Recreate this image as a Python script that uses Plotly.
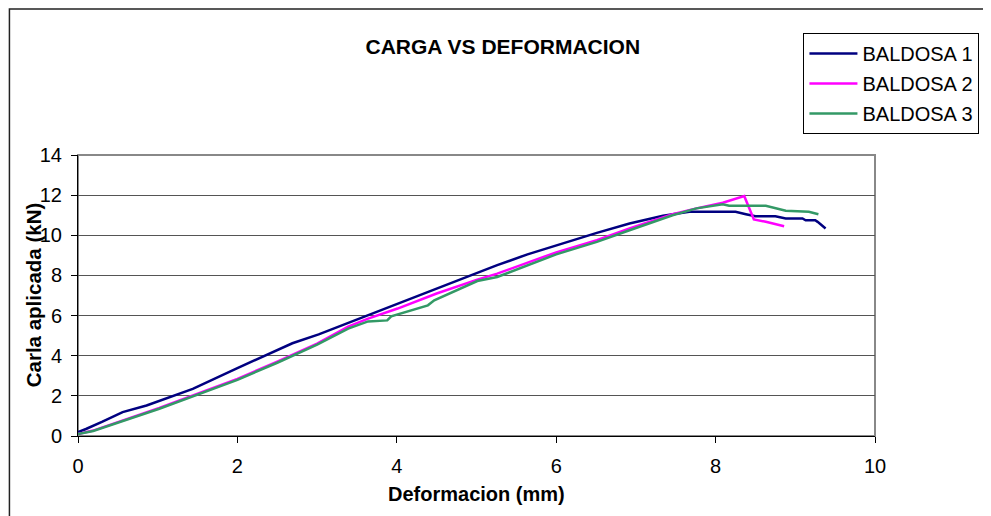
import plotly.graph_objects as go

# ---- data ----
b1_x = [0, 0.10, 0.30, 0.56, 0.86, 1.02, 1.44, 2.00, 2.69, 3.02, 3.52, 4.01, 4.50, 5.01, 5.26,
        5.64, 6.00, 6.51, 6.92, 7.34, 7.67, 8.25, 8.38, 8.50, 8.75, 8.88, 9.09, 9.13, 9.25, 9.28, 9.38]
b1_y = [0.20, 0.35, 0.70, 1.19, 1.52, 1.75, 2.35, 3.38, 4.62, 5.06, 5.83, 6.59, 7.34, 8.13, 8.51,
        9.05, 9.50, 10.12, 10.59, 10.97, 11.17, 11.17, 11.05, 10.95, 10.95, 10.84, 10.84, 10.75, 10.75, 10.67, 10.34]

b2_x = [0, 0.19, 1.02, 2.00, 2.50, 3.00, 3.39, 3.64, 4.01, 4.50, 5.01, 5.26, 6.00, 6.51, 6.92,
        7.46, 7.76, 8.09, 8.36, 8.48, 8.63, 8.86]
b2_y = [0.10, 0.27, 1.40, 2.85, 3.70, 4.60, 5.45, 5.85, 6.35, 7.10, 7.79, 8.09, 9.15, 9.76, 10.34,
        11.05, 11.34, 11.62, 11.95, 10.79, 10.67, 10.45]

b3_x = [0, 0.19, 1.02, 2.00, 2.50, 3.00, 3.39, 3.64, 3.88, 3.93, 4.39, 4.47, 5.01, 5.26, 6.00,
        6.51, 6.92, 7.46, 7.76, 8.09, 8.17, 8.63, 8.88, 9.17, 9.29]
b3_y = [0.10, 0.25, 1.36, 2.80, 3.65, 4.55, 5.35, 5.71, 5.76, 5.96, 6.51, 6.76, 7.72, 7.92, 9.05,
        9.67, 10.25, 11.00, 11.34, 11.55, 11.47, 11.47, 11.22, 11.17, 11.05]

series_names = ["BALDOSA 1", "BALDOSA 2", "BALDOSA 3"]
series_colors = ["#000080", "#FF00FF", "#339966"]

x_ticks = [0, 2, 4, 6, 8, 10]
y_ticks = [0, 2, 4, 6, 8, 10, 12, 14]

FONT = "Liberation Sans, Arial, sans-serif"

# page has an 8px body margin; plot area spans x 78..880, y 155..436 in window pixels
fig = go.Figure()
for name, xs, ys, col in zip(series_names, [b1_x, b2_x, b3_x], [b1_y, b2_y, b3_y], series_colors):
    fig.add_trace(go.Scatter(x=xs, y=ys, mode="lines", name=name, legendgroup=name,
                             line=dict(color=col, width=2.5)))

fig.update_layout(
    width=983, height=508,
    margin=dict(l=70, r=111, t=147, b=80),
    paper_bgcolor="white", plot_bgcolor="white",
    font=dict(family=FONT, color="black", size=20),
    title=dict(text="<b>CARGA VS DEFORMACION</b>", x=0.533, xref="paper", xanchor="center",
               y=1 - 39 / 508, yref="container", yanchor="middle",
               font=dict(family=FONT, size=21, color="black")),
    legend=dict(x=(808 - 78) / 802, y=1.434, xanchor="left", yanchor="top",
                bordercolor="black", borderwidth=1, bgcolor="white",
                font=dict(family=FONT, size=20), itemwidth=48,
                traceorder="grouped", tracegroupgap=1),
    showlegend=True,
)

fig.update_xaxes(range=[0, 10], tickvals=x_ticks, showgrid=False, zeroline=False,
                 showline=True, linecolor="black", linewidth=1,
                 ticks="outside", ticklen=6, tickcolor="black", ticklabelstandoff=6,
                 tickfont=dict(family=FONT, size=20))
fig.update_yaxes(range=[0, 14], tickvals=y_ticks, showgrid=True, gridcolor="#555555", gridwidth=1,
                 zeroline=False, showline=True, linecolor="black", linewidth=1,
                 ticks="outside", ticklen=6, tickcolor="black", ticklabelstandoff=5,
                 tickfont=dict(family=FONT, size=20))

# plot-area border (gray) and outer chart border
fig.add_shape(type="rect", xref="paper", yref="paper", x0=0, x1=1, y0=0, y1=1,
              line=dict(color="#888888", width=2), layer="below")
fig.add_shape(type="rect", xref="paper", yref="paper", x0=(9 - 78) / 802, x1=1.2,
              y0=-0.4, y1=(436 - 9) / 281,
              line=dict(color="#222222", width=1.5), layer="below")

# axis titles
fig.add_annotation(text="<b>Deformacion (mm)</b>", xref="paper", yref="paper",
                   x=(479 - 78) / 802, y=(436 - 494) / 281, showarrow=False,
                   xanchor="center", yanchor="middle", font=dict(family=FONT, size=20))
fig.add_annotation(text="<b>Carla aplicada (kN)</b>", xref="paper", yref="paper",
                   x=(33 - 78) / 802, y=(436 - 295) / 281, showarrow=False, textangle=-90,
                   xanchor="center", yanchor="middle", font=dict(family=FONT, size=20.5))

fig.write_html("out.html")
